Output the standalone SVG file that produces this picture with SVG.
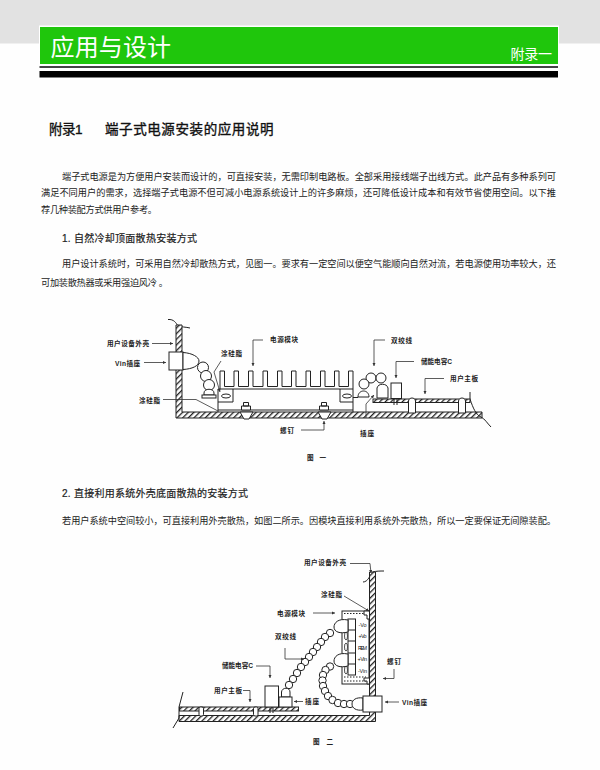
<svg xmlns="http://www.w3.org/2000/svg" width="600" height="770" viewBox="0 0 600 770">
<style>
text{font-family:"Liberation Sans","Noto Sans CJK SC",sans-serif;fill:#111}
.b{font-size:9.200px;fill:#222}
.h{font-size:10px;fill:#222;stroke:#222;stroke-width:.2}
.sec{font-size:13.500px;fill:#111;stroke:#111;stroke-width:.35}
.l{font-size:6.600px;font-weight:700;fill:#222}
.t{font-size:5.500px;fill:#222}
.s{fill:none;stroke:#222;stroke-width:1}
.w{fill:#fff;stroke:#222;stroke-width:1}
.h1{fill:url(#hatch);stroke:#222;stroke-width:1}
.c{fill:none;stroke:#333;stroke-width:.8;marker-end:url(#arr)}
.n{fill:none;stroke:#333;stroke-width:.8}
</style>
<defs>
<pattern id="hatch" width="4" height="4" patternUnits="userSpaceOnUse" patternTransform="rotate(45)"><rect width="4" height="4" fill="#fff"/><rect width="1.300" height="4" fill="#222"/></pattern>
<marker id="arr" markerWidth="5" markerHeight="5" refX="4" refY="2" orient="auto"><path d="M0 0L4 2L0 4z" fill="#333"/></marker>
</defs>
<rect width="600" height="770" fill="#fefefe"/>
<rect width="600" height="43.500" fill="#e2e2e2"/>
<g id="banner">
<rect x="39" y="25.500" width="520" height="53" fill="#fff"/>
<rect x="40" y="27" width="518" height="37" fill="#1fc60c"/>
<rect x="39.500" y="66" width="518.500" height="2" fill="#444"/>
<rect x="39.500" y="71" width="518.500" height="6.500" fill="#000"/>
<text x="50.500" y="56" font-size="24" style="fill:#fff" textLength="120.500">应用与设计</text>
<text x="510.500" y="59" font-size="14" style="fill:#fff" textLength="41.500">附录一</text>
</g>
<g id="text">
<text class="sec" x="49" y="134" textLength="33.500">附录1</text>
<text class="sec" x="105" y="134" textLength="168.500">端子式电源安装的应用说明</text>
<text class="b" x="62" y="179.500" textLength="494">端子式电源是为方便用户安装而设计的，可直接安装，无需印制电路板。全部采用接线端子出线方式。此产品有多种系列可</text>
<text class="b" x="41" y="196" textLength="515">满足不同用户的需求，选择端子式电源不但可减小电源系统设计上的许多麻烦，还可降低设计成本和有效节省使用空间。以下推</text>
<text class="b" x="41" y="212.500" textLength="116">荐几种装配方式供用户参考。</text>
<text class="h" x="62" y="242" textLength="135">1. 自然冷却顶面散热安装方式</text>
<text class="b" x="62" y="267" textLength="494">用户设计系统时，可采用自然冷却散热方式，见图一。要求有一定空间以便空气能顺向自然对流，若电源使用功率较大，还</text>
<text class="b" x="41" y="286" textLength="127">可加装散热器或采用强迫风冷 。</text>
<text class="h" x="62" y="497" textLength="186">2. 直接利用系统外壳底面散热的安装方式</text>
<text class="b" x="62" y="523.500" textLength="494">若用户系统中空间较小，可直接利用外壳散热，如图二所示。因模块直接利用系统外壳散热，所以一定要保证无间隙装配。</text>
</g>
<g id="figure1">
<g id="f1-case">
<path class="s" d="M168 319.500C174 319 176 323 178 326C181 327 186 327 190 328"/>
<path class="h1" d="M176 325H182V412H482V418H176Z"/>
<path class="s" d="M470 392V399C473 408 476 415 481 417C485 419 487 423 491 427"/>
</g>
<g id="f1-vin">
<rect class="w" x="169" y="352" width="14" height="18"/>
<path class="w" d="M183 352.500C192 353 199 357 199 361C199 366 192 369 183 369.500Z"/>
</g>
<g id="f1-beads-left" fill="#fff" stroke="#222">
<circle cx="203" cy="367.500" r="5.500"/><circle cx="206" cy="376" r="5.500"/><circle cx="209" cy="385" r="5.500"/>
<path d="M204 393C204 388 214 388 214 393V395H204Z"/>
<rect x="202" y="395" width="14" height="3"/>
</g>
<g id="f1-module">
<path class="s" d="M218 389V412M218 410H353M353 412V389H218M220 389V371H224.500V386.500H234V371H238.500V386.500H248.500V371H253V386.500H263V371H267.500V386.500H277.500V371H282V386.500H291.500V371H296V386.500H306V371H310.500V386.500H320.500V371H325V386.500H334.500V371H339V386.500H348.500V371H353V389"/>
<path class="s" d="M233 389V402H218M340 389V402H353"/>
<ellipse class="w" cx="226" cy="396" rx="4.500" ry="2"/>
<ellipse class="w" cx="347" cy="396" rx="4.500" ry="2"/>
</g>
<g id="f1-screws">
<path class="w" d="M243.500 406H248.500V402.500H243.500ZM241.500 406H250.500V410H241.500Z"/><path class="w" d="M240 412H253L249 419H244Z"/>
<path class="w" d="M321.500 406H326.500V402.500H321.500ZM319.500 406H328.500V410H319.500Z"/><path class="w" d="M318 412H331L327 419H322Z"/>
</g>
<g id="f1-beads-right" fill="#fff" stroke="#222">
<circle cx="371" cy="378" r="5"/><circle cx="381" cy="378" r="5"/><circle cx="364" cy="384" r="5"/>
<path d="M358 397C358 389 369 389 369 397Z"/><path class="s" d="M353 397.500H358"/>
<path d="M377 398V388C378 383 387 383 388 388V398Z"/>
</g>
<g id="f1-board">
<rect class="h1" x="373" y="399" width="97" height="3.500"/>
<rect class="w" x="391" y="383" width="10.500" height="15.500"/>
<path class="s" d="M394 399V405M397 399V405"/>
<path class="w" d="M408.500 413V401C409 397 415 397 415.500 401V413Z"/>
<path class="w" d="M458.500 413V401C459 397 465 397 465.500 401V413Z"/>
</g>
</g>
<g id="connectors-1">
<path class="c" d="M152 343.500H173"/>
<path class="c" d="M144 362.500H166"/>
<path class="n" d="M163 399.500H196L218 411"/>
<path class="c" d="M221 361L214 372L220 392"/>
<path class="c" d="M253 340V366"/>
<path class="n" d="M253 340H263"/>
<path class="c" d="M374 340V366"/>
<path class="n" d="M374 340H385"/>
<path class="c" d="M396 361.500V378"/>
<path class="n" d="M396 361.500H414"/>
<path class="c" d="M425 378.500V394"/>
<path class="n" d="M425 378.500H444"/>
<path class="c" d="M324 430V421"/>
<path class="n" d="M301 430H324"/>
<path class="c" d="M366 418L366 404L374 395"/>
</g>
<g id="f1-labels">
<text class="l" x="107" y="345.500" textLength="42">用户设备外壳</text>
<text class="l" x="115" y="365.500" textLength="25">Vin插座</text>
<text class="l" x="221" y="356" textLength="21">涂硅脂</text>
<text class="l" x="139" y="402.500" textLength="21">涂硅脂</text>
<text class="l" x="270" y="342" textLength="28">电源模块</text>
<text class="l" x="391" y="343" textLength="21">双绞线</text>
<text class="l" x="421" y="363.500" textLength="31">储能电容C</text>
<text class="l" x="450" y="381" textLength="28">用户主板</text>
<text class="l" x="280" y="432.500" textLength="14">螺钉</text>
<text class="l" x="360" y="436" textLength="14">插座</text>
<text class="l" x="307" y="459.500" textLength="19">图 一</text>
</g>
<g id="figure2">
<g id="f2-case">
<path class="s" d="M363 582C368 582 370 575 373 572C376 571 380 571 384 571"/>
<path class="h1" d="M369.500 572H375.500V721.500H179V715.500H369.500Z"/>
<path class="s" d="M183 692L179 707V718L173 728"/>
</g>
<g id="f2-module">
<rect class="w" x="342" y="611" width="27" height="73"/>
<path class="s" stroke-dasharray="1.500 1.500" d="M344 613.500H366M344 677H366M344 681H366"/>
<rect class="w" x="348" y="619" width="7.500" height="56"/>
<path class="s" d="M348 630H355.500M348 641H355.500M348 653H355.500M348 664H355.500"/>
<g fill="#fff" stroke="#222" stroke-width=".8"><ellipse cx="346" cy="625" rx="1.500" ry="4"/><ellipse cx="346" cy="636" rx="1.500" ry="4"/><ellipse cx="346" cy="647" rx="1.500" ry="4"/><ellipse cx="346" cy="658.500" rx="1.500" ry="4"/><ellipse cx="346" cy="670" rx="1.500" ry="4"/></g>
<path fill="#fff" stroke="#222" d="M369 611H364V615H367V619H369.500V611ZM369 678H364V681H367V684H369.500V678Z"/>
<text class="t" x="358.500" y="627" textLength="8">-Vo</text>
<text class="t" x="358.500" y="638" textLength="8">+Vo</text>
<text class="t" x="358" y="649.500" textLength="9">REM</text>
<text class="t" x="357.500" y="661" textLength="9.500">+Vin</text>
<text class="t" x="358" y="672.500" textLength="9">-Vin</text>
</g>
<g id="f2-beads" fill="#fff" stroke="#222">
<path d="M348 620C338 618 334 623 334 627C334 632 340 634 348 632Z"/>
<path d="M348 654C338 652 334 657 334 661C334 666 340 668 348 666Z"/>
<circle cx="330" cy="633" r="3.700"/><circle cx="325" cy="637" r="3.700"/><circle cx="321" cy="642" r="3.700"/><circle cx="317" cy="647" r="3.700"/><circle cx="313" cy="652" r="3.700"/><circle cx="309" cy="657" r="3.700"/><circle cx="305" cy="662" r="3.700"/><circle cx="301" cy="667" r="3.700"/><circle cx="297" cy="673" r="3.700"/><circle cx="293" cy="679" r="3.700"/><circle cx="289" cy="685" r="3.700"/>
<circle cx="330" cy="666.500" r="3.700"/><circle cx="325.500" cy="670" r="3.700"/><circle cx="323" cy="675" r="3.700"/><circle cx="322.500" cy="680.500" r="3.700"/><circle cx="323" cy="686" r="3.700"/><circle cx="325" cy="691" r="3.700"/><circle cx="328" cy="696" r="3.700"/><circle cx="332.500" cy="700" r="3.700"/><circle cx="338" cy="703" r="3.700"/><circle cx="344" cy="704" r="3.700"/><circle cx="350" cy="704" r="3.700"/>
<path d="M363 698C356 697 352 700 352 704C352 708 356 711 363 710Z"/>
<rect x="363" y="696" width="19" height="16"/>
</g>
<g id="f2-board">
<rect class="h1" x="179.500" y="707" width="119" height="4"/>
<rect class="w" x="265" y="686" width="13.500" height="21"/>
<path class="w" d="M281.500 697V692C282 687 290 687 290 692V697Z"/>
<rect class="w" x="279" y="697" width="13" height="10"/>
<path class="s" d="M270 708V713M273 708V713"/>
<rect x="199" y="707" width="4.500" height="9" fill="#fff" stroke="#222" rx="1.500"/>
<rect x="253.500" y="707" width="4.500" height="9" fill="#fff" stroke="#222" rx="1.500"/>
</g>
</g>
<g id="connectors-2">
<path class="c" d="M350 563.500H370L371 573"/>
<path class="c" d="M344 596L369 611"/>
<path class="c" d="M313 613H335"/>
<path class="c" d="M285 648V659H304"/>
<path class="c" d="M256 666H270V678"/>
<path class="c" d="M243 690.500H250V702"/>
<path class="c" d="M303 701.500H294"/>
<path class="c" d="M394 669V678.500H383"/>
<path class="c" d="M399 702H385"/>
</g>
<g id="f2-labels">
<text class="l" x="304" y="565" textLength="42">用户设备外壳</text>
<text class="l" x="321" y="597" textLength="21">涂硅脂</text>
<text class="l" x="277" y="616" textLength="28">电源模块</text>
<text class="l" x="275" y="639" textLength="21">双绞线</text>
<text class="l" x="222" y="668" textLength="31">储能电容C</text>
<text class="l" x="214" y="693" textLength="28">用户主板</text>
<text class="l" x="305" y="704" textLength="14">插座</text>
<text class="l" x="387" y="664" textLength="14">螺钉</text>
<text class="l" x="402" y="704.500" textLength="25">Vin插座</text>
<text class="l" x="313" y="743.500" textLength="20">图 二</text>
</g>
</svg>
